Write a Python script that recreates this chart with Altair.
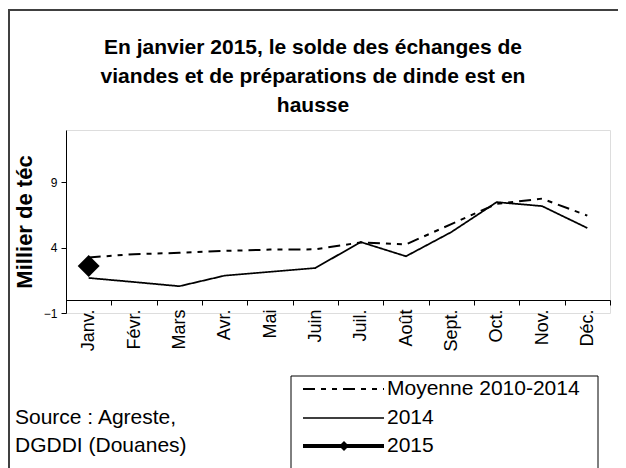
import altair as alt
import pandas as pd

FONT = "Liberation Sans"

months = ["Janv.", "Févr.", "Mars", "Avr.", "Mai", "Juin", "Juil.", "Août",
          "Sept.", "Oct.", "Nov.", "Déc."]
moyenne = [3.25, 3.5, 3.6, 3.75, 3.85, 3.87, 4.4, 4.25, 5.8, 7.35, 7.75, 6.45]
serie_2014 = [1.68, 1.37, 1.05, 1.86, 2.15, 2.44, 4.43, 3.34, 5.19, 7.48, 7.18, 5.5]
serie_2015 = [2.6]
series_names = ["Moyenne 2010-2014", "2014", "2015"]
y_ticks = [-1, 4, 9]
title_lines = ["En janvier 2015, le solde des échanges de",
               "viandes et de préparations de dinde est  en",
               "hausse"]
source_lines = ["Source : Agreste,", "DGDDI (Douanes)"]

rows = []
for name, vals in zip(series_names, [moyenne, serie_2014, serie_2015]):
    for m, v in zip(months, vals):
        rows.append({"mois": m, "valeur": v, "courbe": name})
df = pd.DataFrame(rows)
df_pt = df[df["courbe"] == "2015"]

DASHES = [[12, 6, 5, 6, 5, 6], [1, 0], [1, 0]]
WIDTHS = [2, 1.5, 4]

W, H = 544, 183

x_enc = alt.X("mois:N", sort=months,
              scale=alt.Scale(domain=months, paddingInner=0, paddingOuter=0),
              axis=alt.Axis(title=None, labelAngle=270, labelFontSize=18, labelFont=FONT,
                            labelColor="black", labelPadding=4, tickBand="extent",
                            tickSize=5, tickColor="black", domainColor="black",
                            offset=-13, labelAlign="right", labelBaseline="middle"))
y_enc = alt.Y("valeur:Q", scale=alt.Scale(domain=[-1, 13], nice=False, zero=False),
              axis=alt.Axis(values=y_ticks, title="Millier de téc", titleFontSize=22,
                            titleFont=FONT, titleFontWeight="bold", titleColor="black",
                            titlePadding=7, labelFontSize=12, labelFont=FONT,
                            labelColor="black", labelPadding=4, tickSize=5,
                            tickColor="black", domainColor="black", grid=False))

lines = alt.Chart(df).mark_line(color="black").encode(
    x=x_enc, y=y_enc,
    strokeDash=alt.StrokeDash("courbe:N", scale=alt.Scale(domain=series_names,
                              range=DASHES), legend=None),
    strokeWidth=alt.StrokeWidth("courbe:N", scale=alt.Scale(domain=series_names,
                                range=WIDTHS), legend=None),
)

point = alt.Chart(df_pt).mark_point(shape="diamond", filled=True, size=480, color="black",
                                     opacity=1).encode(x=x_enc, y=y_enc)

one = pd.DataFrame({"k": [0]})

frame = alt.Chart(one).mark_rect(
    fillOpacity=0, stroke="#404040", strokeWidth=2).encode(
    x=alt.value(-57), x2=alt.value(553), y=alt.value(-120), y2=alt.value(345))

# legend drawn by hand
leg_box = alt.Chart(one).mark_rect(fill="white", stroke="black", strokeWidth=1).encode(
    x=alt.value(225), x2=alt.value(532), y=alt.value(246), y2=alt.value(345))
leg_layers = [leg_box]
entry_y = [259, 288, 316]
for name, dash, wdt, yy in zip(series_names, DASHES, WIDTHS, entry_y):
    leg_layers.append(alt.Chart(one).mark_rule(color="black", strokeDash=dash,
                                               strokeWidth=wdt).encode(
        x=alt.value(237), x2=alt.value(318), y=alt.value(yy)))
    leg_layers.append(alt.Chart(one).mark_text(
        text=name, align="left", baseline="middle", fontSize=21, font=FONT,
        color="black").encode(x=alt.value(321), y=alt.value(yy)))
leg_layers.append(alt.Chart(one).mark_point(shape="diamond", filled=True, size=100,
                                            color="black", opacity=1).encode(
    x=alt.value(278), y=alt.value(entry_y[2])))

title = alt.Chart(one).mark_text(
    text=title_lines, align="center", baseline="middle", fontSize=21, font=FONT,
    fontWeight="bold", lineHeight=29, color="black").encode(
    x=alt.value(247), y=alt.value(-82))

source = alt.Chart(one).mark_text(
    text=source_lines, align="left", baseline="middle", fontSize=21, font=FONT,
    lineHeight=28, color="black").encode(x=alt.value(-51), y=alt.value(288))

chart = alt.layer(frame, lines, point, *leg_layers, title, source).properties(
    width=W, height=H,
    padding={"left": 58, "top": 122, "right": 8, "bottom": 155},
    autosize=alt.AutoSizeParams(type="none"),
).configure_view(stroke=None).configure(background="white")

chart.save("out.html", embed_options={"renderer": "svg", "actions": False})
